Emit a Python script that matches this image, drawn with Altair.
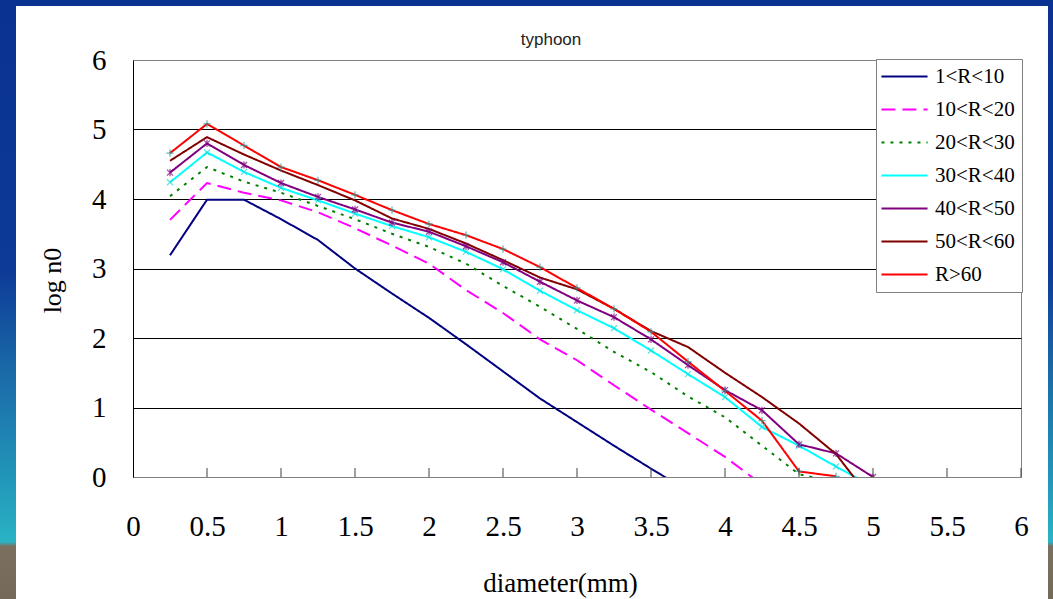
import altair as alt
import pandas as pd

# ---- data ----
diameter = [0.25, 0.5, 0.75, 1.0, 1.25, 1.5, 1.75, 2.0, 2.25, 2.5,
            2.75, 3.0, 3.25, 3.5, 3.75, 4.0, 4.25, 4.5, 4.75, 5.0]

series_names = ["1<R<10", "10<R<20", "20<R<30", "30<R<40", "40<R<50", "50<R<60", "R>60"]

r_1_10 = [3.19, 3.99, 3.99, 3.71, 3.41, 3.00, 2.64, 2.29, 1.91, 1.52, 1.13, 0.79, 0.45, 0.12, -0.20]
r_10_20 = [3.70, 4.23, 4.09, 3.98, 3.81, 3.58, 3.33, 3.07, 2.69, 2.36, 1.98, 1.68, 1.32, 0.97, 0.63, 0.29, -0.11]
r_20_30 = [4.04, 4.46, 4.25, 4.09, 3.90, 3.71, 3.50, 3.31, 3.07, 2.75, 2.45, 2.13, 1.80, 1.51, 1.16, 0.86, 0.45, 0.04, -0.08]
r_30_40 = [4.24, 4.67, 4.39, 4.16, 3.98, 3.79, 3.61, 3.45, 3.24, 2.99, 2.68, 2.40, 2.14, 1.82, 1.48, 1.15, 0.72, 0.45, 0.15, -0.14]
r_40_50 = [4.38, 4.80, 4.49, 4.23, 4.03, 3.85, 3.66, 3.53, 3.32, 3.09, 2.81, 2.54, 2.30, 1.98, 1.61, 1.25, 0.96, 0.47, 0.34, 0.0]
r_50_60 = [4.55, 4.89, 4.64, 4.41, 4.20, 3.98, 3.72, 3.57, 3.36, 3.12, 2.87, 2.70, 2.42, 2.10, 1.87, 1.50, 1.15, 0.77, 0.33, -0.36]
r_60 = [4.66, 5.08, 4.77, 4.46, 4.27, 4.06, 3.84, 3.64, 3.48, 3.28, 3.02, 2.72, 2.42, 2.09, 1.66, 1.24, 0.81, 0.08, 0.01]

series_values = [r_1_10, r_10_20, r_20_30, r_30_40, r_40_50, r_50_60, r_60]

x_ticks = [0, 0.5, 1, 1.5, 2, 2.5, 3, 3.5, 4, 4.5, 5, 5.5, 6]
y_ticks = [0, 1, 2, 3, 4, 5, 6]

chart_title = "typhoon"

# ---- styles ----
line_colors = ["#000080", "#ff00ff", "#008000", "#00ffff", "#800080", "#800000", "#ff0000"]
line_dashes = [[1, 0], [14, 7], [3, 6], [1, 0], [1, 0], [1, 0], [1, 0]]
marker_shape = {
    "30<R<40": "M-1,-1L1,1M-1,1L1,-1",
    "40<R<50": "M-1,-1L1,1M-1,1L1,-1M0,-1.2L0,1.2",
    "R>60": "M-1.2,0L1.2,0M0,-1.2L0,1.2",
}
marker_color = {"30<R<40": "#20d8d8", "40<R<50": "#800080", "R>60": "#2a9a9a"}

rows = []
for name, vals in zip(series_names, series_values):
    for d, v in zip(diameter, vals):
        rows.append({"d": d, "v": v, "series": name})
df = pd.DataFrame(rows)

pts = df[df["series"].isin(marker_shape.keys()) & (df["v"] >= 0)].copy()
pts["shape"] = pts["series"].map(marker_shape)
pts["mcolor"] = pts["series"].map(marker_color)

W, H = 888, 417
PL, PT, PR, PB = 133, 60, 32, 122

grid_color = {"condition": {"test": "datum.value == 6 || datum.value == 0", "value": "#808080"},
              "value": "black"}

x_enc = alt.X("d:Q", scale=alt.Scale(domain=[0, 6], nice=False),
              axis=alt.Axis(values=x_ticks, format="~g", grid=False, ticks=False,
                            domainColor="#808080", labelFont="Liberation Serif",
                            labelFontSize=29, labelColor="black", labelPadding=35,
                            labelFlush=False,
                            title="diameter(mm)", titleFont="Liberation Serif",
                            titleFontSize=27, titleFontWeight="normal", titleColor="black",
                            titleX=427, titleY=106, titleAlign="center",
                            titleBaseline="middle"))
y_enc = alt.Y("v:Q", scale=alt.Scale(domain=[0, 6], nice=False),
              axis=alt.Axis(values=y_ticks, format="~g", grid=True, gridColor=grid_color,
                            gridWidth=1, ticks=False, domainColor="black",
                            labelFont="Liberation Serif", labelFontSize=29,
                            labelColor="black", labelPadding=27, labelFlush=False,
                            title="log n0", titleFont="Liberation Serif",
                            titleFontSize=26, titleFontWeight="normal", titleColor="black",
                            titleX=-81, titleY=220, titleAngle=270,
                            titleAlign="center", titleBaseline="middle"))

legend = alt.Legend(title=None, orient="none", legendX=743, legendY=-1,
                    symbolType="M-5,0L5,0", symbolSize=85, symbolStrokeWidth=2,
                    symbolOffset=11,
                    labelFont="Liberation Serif", labelFontSize=21, labelColor="black",
                    labelOffset=20, fillColor="white", strokeColor="#808080",
                    padding=7, rowPadding=11)

lines = alt.Chart(df).mark_line(strokeWidth=2, clip=True).encode(
    x=x_enc,
    y=y_enc,
    color=alt.Color("series:N", sort=series_names,
                    scale=alt.Scale(domain=series_names, range=line_colors), legend=legend),
    strokeDash=alt.StrokeDash("series:N", sort=series_names,
                              scale=alt.Scale(domain=series_names, range=line_dashes),
                              legend=legend),
)

markers = alt.Chart(pts).mark_point(filled=False, size=36, strokeWidth=1.3, clip=True).encode(
    x="d:Q",
    y="v:Q",
    shape=alt.Shape("shape:N", scale=None),
    stroke=alt.Stroke("mcolor:N", scale=None),
)

tick_df = pd.DataFrame({"t": x_ticks[1:]})
inner_ticks = alt.Chart(tick_df).mark_rule(color="#404040", strokeWidth=1).encode(
    x="t:Q", y=alt.value(H - 9), y2=alt.value(H)
)

one = pd.DataFrame({"a": [0]})

title_mark = alt.Chart(one).mark_text(
    text=chart_title, font="Liberation Sans", fontSize=17, color="#222222",
    align="center", baseline="middle"
).encode(x=alt.value(418), y=alt.value(-20))

# slide frame (decoration)
band_grad = alt.Gradient(
    gradient="linear", x1=0, x2=0, y1=0, y2=1,
    stops=[alt.GradientStop(color="#0a3291", offset=0),
           alt.GradientStop(color="#0d3a97", offset=0.45),
           alt.GradientStop(color="#1a6aa8", offset=0.62),
           alt.GradientStop(color="#2296b9", offset=0.8),
           alt.GradientStop(color="#2ab3c3", offset=0.905),
           alt.GradientStop(color="#7b6f5f", offset=0.912),
           alt.GradientStop(color="#75695a", offset=1)])
top_band = alt.Chart(one).mark_rect(fill="#0a3291").encode(
    x=alt.value(-PL), x2=alt.value(W + PR), y=alt.value(-PT), y2=alt.value(-PT + 6))
left_band = alt.Chart(one).mark_rect(fill=band_grad).encode(
    x=alt.value(-PL), x2=alt.value(-PL + 16), y=alt.value(-PT), y2=alt.value(H + PB))
right_band = alt.Chart(one).mark_rect(fill=band_grad).encode(
    x=alt.value(W + PR - 5), x2=alt.value(W + PR), y=alt.value(-PT), y2=alt.value(H + PB))

chart = alt.layer(lines, markers, inner_ticks, title_mark, top_band, left_band, right_band).properties(
    width=W, height=H,
    padding={"left": PL, "top": PT, "right": PR, "bottom": PB},
    autosize=alt.AutoSizeParams(type="none"),
    background="white",
).configure_view(stroke="#808080", strokeWidth=1)

chart.save("out.html", embed_options={"renderer": "svg", "actions": False})
